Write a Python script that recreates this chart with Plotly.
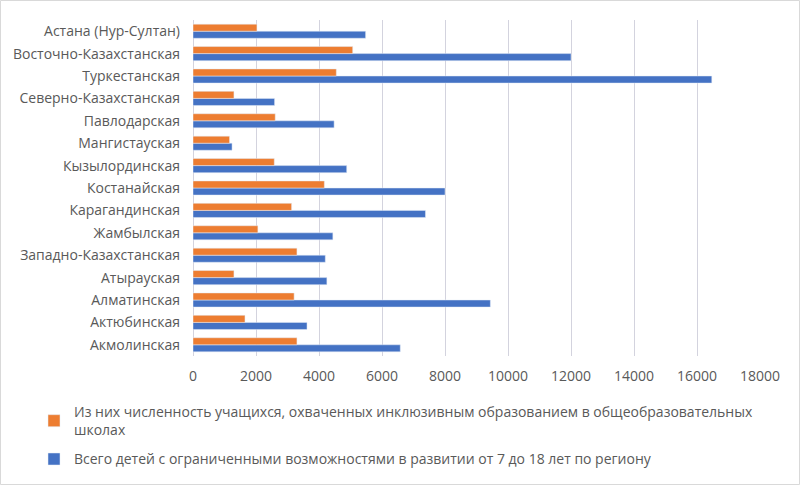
import plotly.graph_objects as go

# categories bottom -> top
regions = ["Акмолинская", "Актюбинская", "Алматинская", "Атырауская",
           "Западно-Казахстанская", "Жамбылская", "Карагандинская", "Костанайская",
           "Кызылординская", "Мангистауская", "Павлодарская", "Северно-Казахстанская",
           "Туркестанская", "Восточно-Казахстанская", "Астана (Нур-Султан)"]
total_children = [6580, 3620, 9440, 4250, 4200, 4440, 7380, 8000,
                  4880, 1240, 4480, 2590, 16470, 12000, 5480]
inclusive = [3300, 1650, 3210, 1300, 3300, 2060, 3130, 4170,
             2580, 1160, 2610, 1300, 4550, 5070, 2030]
x_ticks = [0, 2000, 4000, 6000, 8000, 10000, 12000, 14000, 16000, 18000]
x_tick_labels = ["0", "2000", "4000", "6000", "8000", "10000", "12000", "14000", "16000", "18000"]

name_incl = "Из них численность учащихся, охваченных инклюзивным образованием в общеобразовательных<br>школах"
name_total = "Всего детей с ограниченными возможностями в развитии от 7 до 18 лет по региону"

fig = go.Figure()
fig.add_trace(go.Bar(y=regions, x=total_children, orientation="h", name=name_total,
                     marker=dict(color="#4472C4"), legendrank=2, legendgroup="b"))
fig.add_trace(go.Bar(y=regions, x=inclusive, orientation="h", name=name_incl,
                     marker=dict(color="#ED7D31"), legendrank=1, legendgroup="a"))

L, T, W, H = 193, 20, 567, 336
fig.update_layout(
    width=800, height=485,
    margin=dict(l=L, r=800 - L - W, t=T, b=485 - T - H, autoexpand=False),
    plot_bgcolor="white", paper_bgcolor="white",
    barmode="group", bargap=0.37, bargroupgap=0.0,
    font=dict(family="Open Sans, Roboto, sans-serif", size=14, color="#595959"),
    xaxis=dict(range=[0, 18000], tickvals=x_ticks, ticktext=x_tick_labels, showgrid=True,
               gridcolor="#d3d3de", gridwidth=1, zeroline=True, zerolinecolor="#d3d3de",
               zerolinewidth=1, showline=False, ticks="", tickfont=dict(size=14, color="#595959"),
               ticklabelstandoff=10, fixedrange=True, automargin=False),
    yaxis=dict(showgrid=False, showline=False, ticks="", tickfont=dict(size=14, color="#595959"),
               ticklabelstandoff=12, fixedrange=True, automargin=False),
    legend=dict(xref="paper", yref="paper", x=(34 - L) / W, y=(T + H - 396) / H,
                xanchor="left", yanchor="top", orientation="v", traceorder="grouped",
                font=dict(size=14, color="#595959"), tracegroupgap=8,
                itemwidth=30, bgcolor="rgba(0,0,0,0)"),
    showlegend=True,
)

# outer chart border
fig.add_shape(type="rect", xref="paper", yref="paper",
              x0=(0.5 - L) / W, x1=(799.5 - L) / W,
              y0=(T + H - 484.5) / H, y1=(T + H - 0.5) / H,
              line=dict(color="#d9d9d9", width=1), fillcolor="rgba(0,0,0,0)", layer="below")

fig.write_html("out.html")
